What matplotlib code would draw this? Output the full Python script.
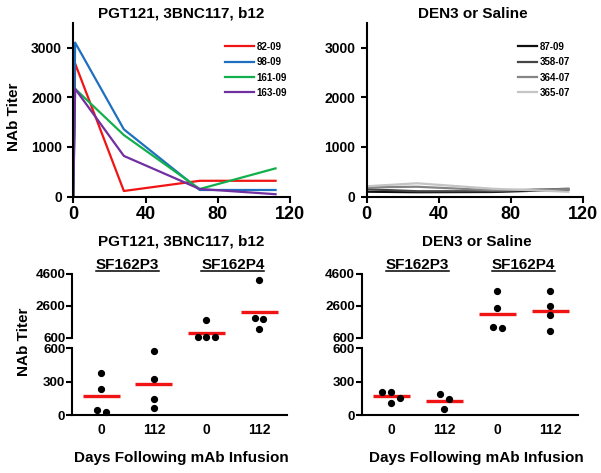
import numpy as np
import matplotlib
matplotlib.use('Agg')
import matplotlib.pyplot as plt
from matplotlib.lines import Line2D
from matplotlib.transforms import blended_transform_factory

plt.rcParams['font.family'] = ['Liberation Sans', 'DejaVu Sans']
plt.rcParams['font.weight'] = 'bold'

# ---- top panels: titer over time ----
days = [0, 1, 28, 70, 112]
mab_names = ['82-09', '98-09', '161-09', '163-09']
mab_titers = [
    [0, 2680, 115, 320, 320],
    [0, 3100, 1355, 135, 135],
    [0, 2170, 1240, 155, 570],
    [0, 2170, 820, 155, 50],
]
ctrl_days = [0, 28, 70, 112]
ctrl_names = ['87-09', '358-07', '364-07', '365-07']
ctrl_titers = [
    [100, 90, 95, 140],
    [150, 110, 110, 160],
    [190, 200, 130, 150],
    [210, 270, 160, 100],
]

# ---- bottom panels: SF162P3 / SF162P4 at day 0 and 112 ----
group_ticks = ['0', '112', '0', '112']
mab_points = [
    [375, 234, 45, 24],
    [576, 324, 141, 60],
    [1710, 650, 650, 650],
    [4200, 1820, 1755, 1130],
]
ctrl_points = [
    [210, 204, 156, 105],
    [186, 144, 54],
    [3510, 2480, 1215, 1250],
    [3510, 2570, 2030, 1050],
]

mab_colors = ['#f01414', '#1f6fc0', '#12b04c', '#7030a0']
ctrl_colors = ['#101010', '#454545', '#858585', '#c4c4c4']
RED = '#f01414'
BREAK = 600

W, H = 601, 473
fig = plt.figure(figsize=(W / 100, H / 100), dpi=100)


def box(l, t, r, b):
    return [l / W, 1 - b / H, (r - l) / W, (b - t) / H]


def style(ax, lw=1.5):
    for s in ['top', 'right']:
        ax.spines[s].set_visible(False)
    for s in ['left', 'bottom']:
        ax.spines[s].set_linewidth(lw)
    ax.tick_params(width=lw, length=4, direction='out')


# top line plots
def line_panel(rect, xs, series, names, colors, hl):
    ax = fig.add_axes(rect)
    style(ax)
    for vals, name, c in zip(series, names, colors):
        ax.plot(xs, vals, color=c, lw=1.6, label=name)
    ax.set_xlim(0, 120)
    ax.set_ylim(0, 3500)
    ax.set_xticks([0, 40, 80, 120])
    ax.set_yticks([0, 1000, 2000, 3000])
    ax.tick_params(axis='x', labelsize=13, pad=3)
    ax.tick_params(axis='y', labelsize=10, pad=4)
    ax.legend(loc='upper left', bbox_to_anchor=(0.70, 0.89), frameon=False,
              fontsize=7, handlelength=hl, handletextpad=0.25,
              labelspacing=0.55, borderpad=0, borderaxespad=0)
    return ax


line_panel(box(73.3, 22.7, 290, 196.7), days, mab_titers, mab_names, mab_colors, 3.0)
line_panel(box(366.7, 22.7, 582.7, 196.7), ctrl_days, ctrl_titers, ctrl_names, ctrl_colors, 2.0)

fig.text(181 / W, 1 - 13.5 / H, 'PGT121, 3BNC117, b12', ha='center', va='center', fontsize=11)
fig.text(473 / W, 1 - 13.5 / H, 'DEN3 or Saline', ha='center', va='center', fontsize=11)
fig.text(14 / W, 1 - 117 / H, 'NAb Titer', rotation=90, ha='center', va='center', fontsize=11)


# bottom broken-axis scatter plots
def scatter_panel(l, r, groups):
    ax_lo = fig.add_axes(box(l, 348.3, r, 415))
    ax_hi = fig.add_axes(box(l, 274, r, 337.7))
    for ax in (ax_lo, ax_hi):
        style(ax)
        ax.set_xlim(-0.55, 3.53)
        ax.tick_params(axis='y', labelsize=9.7, pad=1)
    ax_hi.spines['bottom'].set_visible(False)
    ax_hi.set_xticks([])
    ax_lo.set_ylim(0, BREAK)
    ax_lo.set_yticks([0, 300, 600])
    ax_hi.set_ylim(BREAK, 4600)
    ax_hi.set_yticks([600, 2600, 4600])
    ax_lo.set_xticks(range(len(group_ticks)))
    ax_lo.set_xticklabels(group_ticks)
    ax_lo.tick_params(axis='x', length=0, labelsize=10, pad=6)

    def ax_of(v):
        return ax_hi if v > BREAK else ax_lo

    # spread dots that sit at nearly the same height
    ppu = ax_lo.transData.transform((1, 0))[0] - ax_lo.transData.transform((0, 0))[0]
    for pos, vals in enumerate(groups):
        ypx = [ax_of(v).transData.transform((pos, v))[1] for v in vals]
        order = np.argsort(ypx)[::-1]
        rows = []
        for i in order:
            if rows and abs(ypx[rows[-1][0]] - ypx[i]) < 6.5 and ax_of(vals[i]) is ax_of(vals[rows[-1][0]]):
                rows[-1].append(i)
            else:
                rows.append([i])
        xs = np.zeros(len(vals))
        for row in rows:
            n = len(row)
            for k, i in enumerate(row):
                xs[i] = pos + (k - (n - 1) / 2) * 8.7 / ppu
        for v, x in zip(vals, xs):
            ax_of(v).plot(x, v, 'o', color='black', ms=4.2, clip_on=False, zorder=3)
        m = np.mean(vals)
        ax_of(m).hlines(m, pos - 0.35, pos + 0.35, color=RED, lw=2.4, zorder=2)
    return ax_lo


def title_block(ax_lo, title, cx):
    fig.text(cx / W, 1 - 241.7 / H, title, ha='center', va='center', fontsize=11)
    tr = blended_transform_factory(ax_lo.transData, fig.transFigure)
    texts = []
    for x, name in [(0.5, 'SF162P3'), (2.5, 'SF162P4')]:
        texts.append(ax_lo.text(x, 1 - 265 / H, name, ha='center', va='center',
                                fontsize=11, transform=tr))
    fig.text(cx / W, 1 - 458.3 / H, 'Days Following mAb Infusion',
             ha='center', va='center', fontsize=11)
    return texts


ax_bl = scatter_panel(72.3, 287, mab_points)
ax_br = scatter_panel(362, 578.3, ctrl_points)
subs = title_block(ax_bl, 'PGT121, 3BNC117, b12', 181.5)
subs += title_block(ax_br, 'DEN3 or Saline', 476.5)
fig.text(24.5 / W, 1 - 342 / H, 'NAb Titer', rotation=90, ha='center', va='center', fontsize=11)

# underline the strain names
fig.canvas.draw()
renderer = fig.canvas.get_renderer()
for t in subs:
    bb = t.get_window_extent(renderer)
    y = (bb.y0 + 1.2) / H
    fig.add_artist(Line2D([bb.x0 / W, bb.x1 / W], [y, y], transform=fig.transFigure,
                          color='black', lw=1.1))

fig.savefig('out.png', dpi=100)
